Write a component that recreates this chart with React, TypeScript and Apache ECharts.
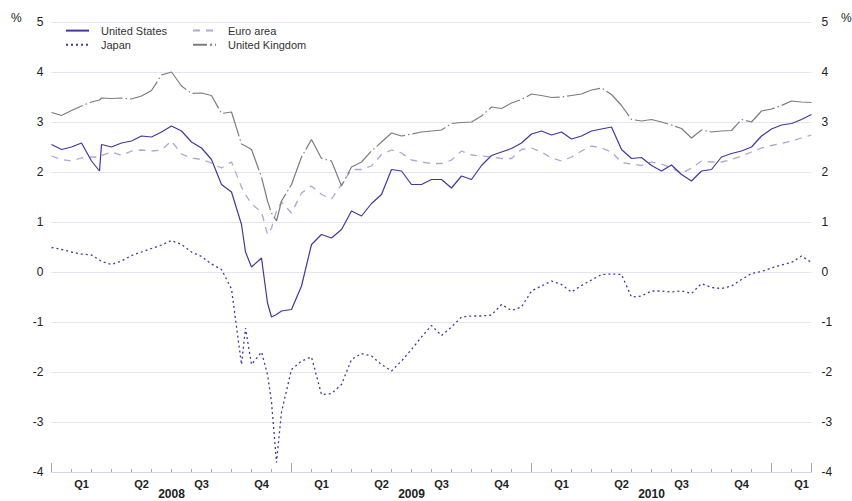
import { useEffect, useRef } from "react";
import * as echarts from "echarts";

// x positions: months since 1 Jan 2008
const months = [
  0, 0.5, 1, 1.5, 2, 2.4, 2.5, 3, 3.5, 4, 4.5, 5, 5.5, 6, 6.5, 7, 7.5, 8, 8.5, 9, 9.5, 9.7,
  10, 10.5, 10.8, 11, 11.25, 11.5, 12, 12.5, 13, 13.5, 14, 14.5, 15, 15.5, 16, 16.5, 17, 17.5,
  18, 18.5, 19, 19.5, 20, 20.5, 21, 21.5, 22, 22.5, 23, 23.5, 24, 24.5, 25, 25.5, 26, 26.5,
  27, 27.5, 28, 28.5, 29, 29.5, 30, 30.5, 31, 31.5, 32, 32.5, 33, 33.5, 34, 34.5, 35, 35.5,
  36, 36.5, 37, 37.5, 38,
];

const unitedStates = [
  2.55, 2.45, 2.5, 2.58, 2.22, 2.02,
  2.55, 2.5, 2.58, 2.62, 2.72, 2.7, 2.8, 2.92, 2.82, 2.6, 2.48, 2.25, 1.75, 1.6, 0.95, 0.4,
  0.1, 0.28, -0.62, -0.9, -0.85,
  -0.78, -0.75, -0.28, 0.55, 0.75, 0.68, 0.85, 1.22, 1.12, 1.37, 1.55, 2.05, 2.02, 1.75, 1.75,
  1.85, 1.85, 1.68, 1.92, 1.85, 2.13, 2.33, 2.4, 2.47, 2.58, 2.76, 2.82, 2.74, 2.8, 2.66, 2.72,
  2.82, 2.86, 2.9, 2.45, 2.27, 2.29, 2.13, 2.02, 2.14, 1.95, 1.82, 2.02, 2.05, 2.3, 2.37, 2.42,
  2.5, 2.72, 2.86, 2.94, 2.97, 3.05, 3.15,
];

const euroArea = [
  2.32, 2.25, 2.22, 2.28, 2.3, 2.3,
  2.33, 2.4, 2.33, 2.42, 2.44, 2.42, 2.44, 2.62, 2.36, 2.28, 2.25, 2.18, 2.08, 2.2, 1.7, 1.55,
  1.36, 1.2, 0.75, 0.88, 1.22,
  1.4, 1.18, 1.58, 1.72, 1.55, 1.46, 1.75, 2.05, 2.05, 2.12, 2.35, 2.44, 2.38, 2.24, 2.2,
  2.17, 2.17, 2.24, 2.42, 2.34, 2.32, 2.3, 2.27, 2.27, 2.45, 2.48, 2.4, 2.28, 2.22, 2.3, 2.42,
  2.52, 2.48, 2.4, 2.19, 2.16, 2.13, 2.2, 2.16, 2.08, 1.97, 2.08, 2.22, 2.2, 2.2, 2.25, 2.32,
  2.4, 2.48, 2.53, 2.57, 2.62, 2.68, 2.74,
];

const unitedKingdom = [
  3.19, 3.13, 3.23, 3.32, 3.4, 3.44,
  3.48, 3.47, 3.48, 3.46, 3.52, 3.63, 3.94, 4.0, 3.72, 3.57, 3.58, 3.53, 3.17, 3.2, 2.56, 2.52,
  2.45, 1.9, 1.42, 1.18, 1.02,
  1.42, 1.75, 2.3, 2.65, 2.27, 2.22, 1.72, 2.1, 2.2, 2.42, 2.6, 2.78, 2.72, 2.76, 2.8,
  2.82, 2.84, 2.97, 2.99, 3.0, 3.12, 3.3, 3.27, 3.38, 3.45, 3.56, 3.53, 3.49, 3.5, 3.53, 3.56,
  3.64, 3.68, 3.55, 3.33, 3.05, 3.02, 3.05, 3.0, 2.94, 2.87, 2.68, 2.84, 2.8, 2.82, 2.83, 3.05,
  3.0, 3.22, 3.26, 3.33, 3.42, 3.4, 3.39,
];

const japan = [
  0.49, 0.45, 0.4, 0.36, 0.34, 0.24,
  0.21, 0.15, 0.22, 0.33, 0.4, 0.47, 0.54, 0.63, 0.55, 0.4, 0.31, 0.16, 0.05, -0.34, -1.85, -1.12,
  -1.85, -1.6, -2.05, -2.6, -3.81,
  -2.8, -1.95, -1.78, -1.7, -2.45, -2.43, -2.25, -1.75, -1.63, -1.68, -1.85, -1.98, -1.78, -1.55, -1.3,
  -1.07, -1.27, -1.1, -0.9, -0.88, -0.88, -0.86, -0.65, -0.77, -0.7, -0.38, -0.28, -0.18, -0.25, -0.4,
  -0.27, -0.16, -0.05, -0.04, -0.05, -0.5, -0.48, -0.38, -0.38, -0.4, -0.38, -0.43, -0.23, -0.31,
  -0.33, -0.28, -0.15, -0.03, 0.01, 0.08, 0.14, 0.19, 0.32, 0.19,
];

const quarterLabels = ["Q1", "Q2", "Q3", "Q4"];
const yearLabels = ["2008", "2009", "2010"];

const FONT = "'Liberation Sans', Arial, Helvetica, sans-serif";
const PURPLE = "#4337a0";
const LAVENDER = "#aea6d8";
const GREY = "#7d7d7d";
const GRIDC = "#e7e5f4";

const pairs = (vals: number[]) => months.map((m, i) => [m, vals[i]]);

export default function App() {
  const ref = useRef<HTMLDivElement>(null);
  useEffect(() => {
    if (!ref.current) return;
    const chart = echarts.init(ref.current, null, { renderer: "svg" });
    const baseX = {
      type: "value" as const,
      position: "bottom" as const,
      min: 0,
      max: 38,
      splitLine: { show: false },
      axisLine: { show: false, onZero: false },
      axisTick: { show: false },
      axisLabel: { show: false },
    };
    const yBase = {
      type: "value" as const,
      min: -4,
      max: 5,
      interval: 1,
      axisLine: { show: false },
      axisTick: { show: false },
    };
    const legendBase = {
      orient: "vertical" as const,
      top: 20,
      itemWidth: 23,
      itemHeight: 14,
      itemGap: 3,
      itemStyle: { opacity: 0 },
      textStyle: { fontSize: 11, color: "#333", fontFamily: FONT, padding: [0, 0, 0, 7] },
    };
    chart.setOption({
      animation: false,
      textStyle: { fontFamily: FONT },
      grid: { left: 51.5, right: 40.5, top: 22, bottom: 29, outerBoundsMode: "none", containLabel: false },
      legend: [
        { ...legendBase, data: ["United States", "Japan"], left: 60 },
        {
          ...legendBase,
          data: ["Euro area", { name: "United Kingdom", lineStyle: { type: [14, 3, 2, 3] } }],
          left: 187,
        },
      ],
      xAxis: [
        {
          ...baseX,
          interval: 1,
          axisLine: { show: true, onZero: false, lineStyle: { color: "#d6d3ec", width: 1 } },
          axisTick: { show: true, inside: true, length: 3, lineStyle: { color: "#a8a8a8" } },
        },
        {
          ...baseX,
          interval: 12,
          axisTick: { show: true, inside: true, length: 9, lineStyle: { color: "#a8a8a8" } },
        },
        {
          ...baseX,
          interval: 1.5,
          axisLabel: {
            show: true,
            margin: 6,
            fontSize: 11,
            fontWeight: "bold",
            color: "#222",
            fontFamily: FONT,
            showMinLabel: true,
            showMaxLabel: true,
            formatter: (v: number) => {
              const q = v / 1.5;
              const n = Math.round(q);
              if (Math.abs(q - n) > 1e-6 || n % 2 === 0) return "";
              return quarterLabels[((n - 1) / 2) % 4];
            },
          },
        },
        {
          ...baseX,
          interval: 6,
          axisLabel: {
            show: true,
            margin: 16,
            fontSize: 12,
            fontWeight: "bold",
            color: "#222",
            fontFamily: FONT,
            formatter: (v: number) => {
              const q = v / 6;
              const n = Math.round(q);
              if (Math.abs(q - n) > 1e-6 || n % 2 === 0) return "";
              return yearLabels[(n - 1) / 2] ?? "";
            },
          },
        },
      ],
      yAxis: [
        {
          ...yBase,
          position: "left",
          splitLine: { show: true, lineStyle: { color: GRIDC, width: 1 } },
          axisLabel: { margin: 8, fontSize: 12, color: "#222", fontFamily: FONT },
        },
        {
          ...yBase,
          position: "right",
          splitLine: { show: false },
          axisLabel: { margin: 10, fontSize: 12, color: "#222", fontFamily: FONT },
        },
      ],
      graphic: [
        { type: "text", left: 11, top: 12, style: { text: "%", fontSize: 12, fill: "#222", fontFamily: FONT } },
        { type: "text", left: 841, top: 12, style: { text: "%", fontSize: 12, fill: "#222", fontFamily: FONT } },
      ],
      series: [
        {
          name: "Euro area",
          type: "line",
          symbol: "none",
          data: pairs(euroArea),
          lineStyle: { color: LAVENDER, width: 1.3, type: [7, 6] },
          itemStyle: { color: LAVENDER, opacity: 0 },
        },
        {
          name: "United Kingdom",
          type: "line",
          symbol: "none",
          data: pairs(unitedKingdom),
          lineStyle: { color: GREY, width: 1.2, type: [34, 3, 1.5, 3] },
          itemStyle: { color: GREY, opacity: 0 },
        },
        {
          name: "Japan",
          type: "line",
          symbol: "none",
          data: pairs(japan),
          lineStyle: { color: PURPLE, width: 1.3, type: [2, 3] },
          itemStyle: { color: PURPLE, opacity: 0 },
        },
        {
          name: "United States",
          type: "line",
          symbol: "none",
          data: pairs(unitedStates),
          lineStyle: { color: PURPLE, width: 1.2, type: "solid" },
          itemStyle: { color: PURPLE, opacity: 0 },
        },
      ],
    });
    return () => chart.dispose();
  }, []);
  return (
    <div
      ref={ref}
      style={{ position: "fixed", left: 0, top: 0, width: 852, height: 501, background: "#fff" }}
    />
  );
}
